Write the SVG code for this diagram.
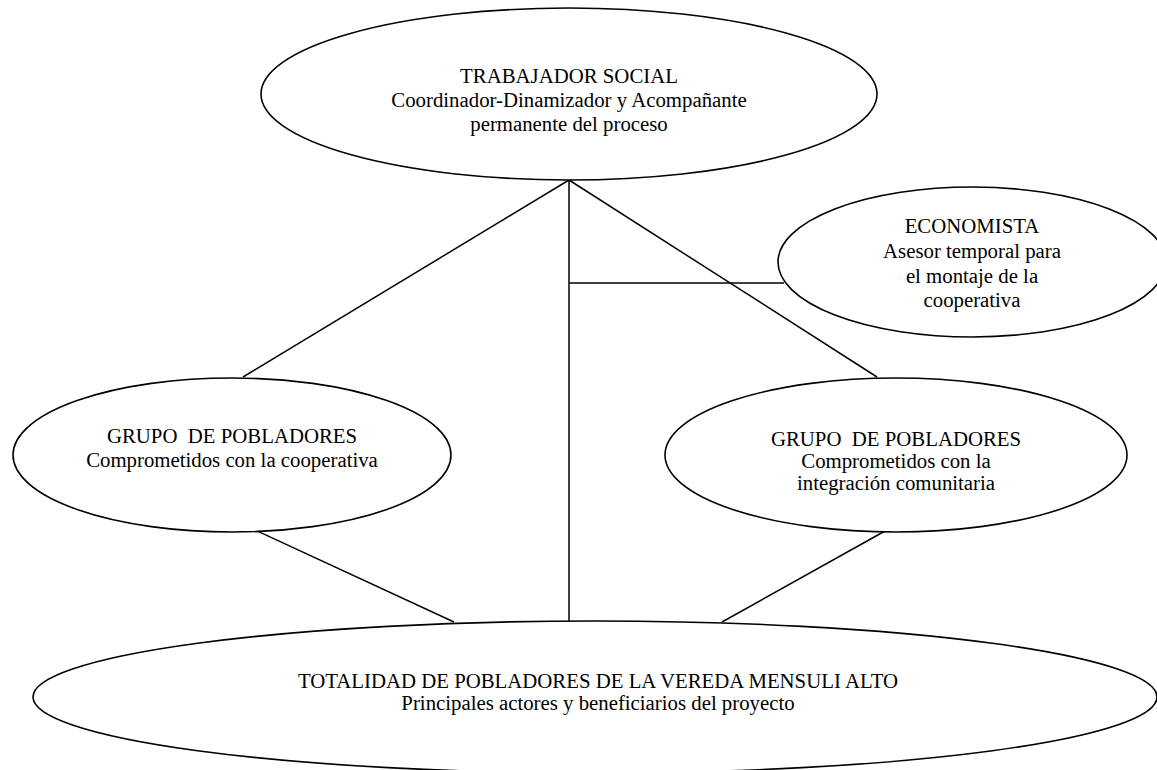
<svg xmlns="http://www.w3.org/2000/svg" width="1157" height="770" viewBox="0 0 1157 770">
<style>
.n{fill:#fff;stroke:#000;stroke-width:1.6}
.t{font-family:"Liberation Serif","Times New Roman",serif;font-size:20.8px;fill:#000;text-anchor:middle;white-space:pre}
.c{stroke:#000;stroke-width:1.5;fill:none}
</style>
<rect width="1157" height="770" fill="#fff"/>
<g id="connectors">
<line class="c" x1="569" y1="180" x2="243" y2="377"/>
<line class="c" x1="569" y1="180" x2="877" y2="377"/>
<line class="c" x1="569" y1="180" x2="569" y2="627"/>
<line class="c" x1="569" y1="283" x2="784" y2="283"/>
<line class="c" x1="242" y1="524" x2="454" y2="622"/>
<line class="c" x1="885" y1="531" x2="722" y2="622"/>
</g>
<g id="trabajador">
<ellipse class="n" cx="569" cy="94" rx="308" ry="86"/>
<text class="t" x="569" y="83">TRABAJADOR SOCIAL</text>
<text class="t" x="569" y="107">Coordinador-Dinamizador y Acompañante</text>
<text class="t" x="569" y="131">permanente del proceso</text>
</g>
<g id="economista">
<ellipse class="n" cx="972" cy="262" rx="194" ry="75"/>
<text class="t" x="972" y="233">ECONOMISTA</text>
<text class="t" x="972" y="258">Asesor temporal para</text>
<text class="t" x="972" y="283">el montaje de la</text>
<text class="t" x="972" y="307">cooperativa</text>
</g>
<g id="grupo-cooperativa">
<ellipse class="n" cx="232" cy="455" rx="219" ry="77"/>
<text class="t" x="232" y="443">GRUPO  DE POBLADORES</text>
<text class="t" x="232" y="467">Comprometidos con la cooperativa</text>
</g>
<g id="grupo-integracion">
<ellipse class="n" cx="896" cy="455" rx="231" ry="77"/>
<text class="t" x="896" y="446">GRUPO  DE POBLADORES</text>
<text class="t" x="896" y="468">Comprometidos con la</text>
<text class="t" x="896" y="490">integración comunitaria</text>
</g>
<g id="totalidad">
<ellipse class="n" cx="595" cy="697" rx="562" ry="76"/>
<text class="t" x="598" y="688">TOTALIDAD DE POBLADORES DE LA VEREDA MENSULI ALTO</text>
<text class="t" x="598" y="710">Principales actores y beneficiarios del proyecto</text>
</g>
</svg>
